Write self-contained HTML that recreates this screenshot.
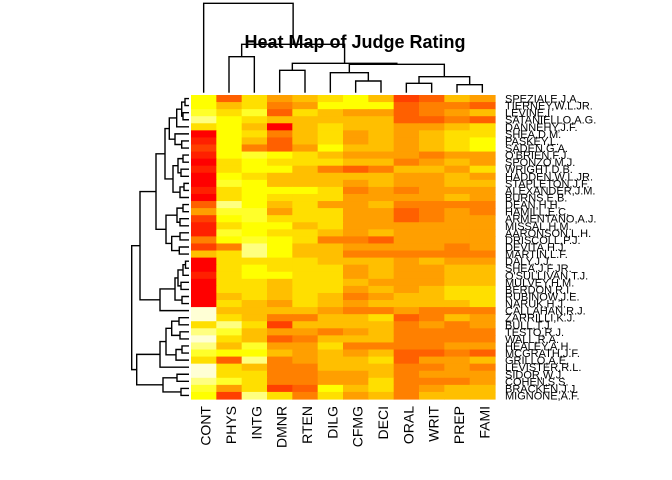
<!DOCTYPE html>
<html><head><meta charset="utf-8"><style>
html,body{margin:0;padding:0;background:#fff}
svg{display:block}
text{font-family:"Liberation Sans",Arial,sans-serif}
</style></head><body>
<svg id="chart" width="672" height="480" viewBox="0 0 672 480" xmlns="http://www.w3.org/2000/svg">
<g id="cells"></g>
<g id="rowdend" stroke="#000" stroke-width="1.4" fill="none"></g>
<g id="coldend" stroke="#000" stroke-width="1.4" fill="none"></g>
<text x="355" y="48" font-size="18" font-weight="bold" text-anchor="middle">Heat Map of Judge Rating</text>
<g id="rowlabels"></g>
<g id="collabels"></g>
</svg>
<script>
const colLabels=["CONT","PHYS","INTG","DMNR","RTEN","DILG","CFMG","DECI","ORAL","WRIT","PREP","FAMI"];
const rowLabels=["SPEZIALE,J.A.","TIERNEY,W.L.JR.","LEVINE,I.","SATANIELLO,A.G.","DANNEHY,J.F.","SHEA,D.M.","PASKEY,L.","SADEN.G.A.","O'BRIEN,F.J.","SPONZO,M.J.","WRIGHT,D.B.","HADDEN,W.L.JR.","STAPLETON,J.F.","ALEXANDER,J.M.","BURNS,E.B.","DEAN,H.H.","HAMILL,E.C.","ARMENTANO,A.J.","MISSAL,H.M.","AARONSON,L.H.","DRISCOLL,P.J.","DEVITA,H.J.","MARTIN,L.F.","DALY,J.J.","SHEA,J.F.JR.","O'SULLIVAN,T.J.","MULVEY,H.M.","BERDON,R.I.","RUBINOW,J.E.","NARUK,H.J.","CALLAHAN,R.J.","ZARRILLI,K.J.","BULL,T.J.","TESTO,R.J.","WALL,R.A.","HEALEY.A.H.","MCGRATH,J.F.","GRILLO,A.E.","LEVISTER,R.L.","SIDOR,W.J.","COHEN,S.S.","BRACKEN,J.J.","MIGNONE,A.F."];
const palette=["#FF0000","#FF2000","#FF4000","#FF6000","#FF8000","#FF9F00","#FFBF00","#FFDF00","#FFFF00","#FFFF2A","#FFFF80","#FFFFD5"];
const levels=[
[8,3,7,5,6,7,8,6,2,3,6,5],
[8,6,7,4,5,8,8,8,3,4,4,3],
[9,7,9,3,7,6,5,5,3,4,5,6],
[10,8,7,6,6,6,6,6,3,3,4,3],
[7,8,6,0,6,7,6,6,5,5,6,7],
[0,8,7,4,6,7,5,6,5,6,7,7],
[1,8,6,3,6,7,5,6,5,6,7,8],
[2,8,4,3,5,8,6,6,5,6,7,8],
[1,8,9,8,7,6,5,5,5,4,5,5],
[0,7,8,7,7,7,6,6,4,5,6,5],
[1,7,8,8,6,4,3,4,6,6,5,7],
[0,8,7,6,6,6,6,6,5,5,6,5],
[0,9,8,6,6,6,5,6,5,5,6,6],
[1,7,8,8,8,7,4,5,4,5,5,5],
[0,7,8,7,7,7,5,5,5,5,6,5],
[3,10,8,6,7,5,5,6,4,4,4,4],
[5,9,9,5,7,7,5,5,3,4,5,4],
[2,8,9,7,7,7,5,5,3,4,5,5],
[1,7,8,8,6,7,5,5,5,5,5,5],
[1,9,8,7,7,6,5,6,5,5,5,5],
[4,8,9,8,7,4,4,3,5,5,5,5],
[2,4,10,8,6,6,5,5,5,5,4,5],
[6,7,10,8,6,6,4,4,4,4,4,4],
[0,7,7,7,7,6,6,6,5,6,5,5],
[0,7,8,7,7,7,5,6,5,5,6,6],
[1,7,8,8,7,7,5,6,5,5,6,6],
[0,7,7,6,7,7,6,5,5,5,6,6],
[0,7,7,6,7,7,5,6,5,6,7,7],
[0,6,7,6,7,6,4,5,6,6,7,7],
[0,7,6,5,7,6,5,6,6,6,6,7],
[11,6,6,6,6,5,4,4,5,4,4,4],
[11,7,6,4,4,6,6,7,3,4,6,5],
[7,10,7,2,6,6,6,6,4,5,4,5],
[10,9,6,5,5,4,5,6,4,4,4,4],
[11,7,6,3,4,6,6,6,4,4,4,4],
[10,6,9,5,5,7,4,4,4,4,5,5],
[9,8,8,6,5,6,5,6,3,3,4,3],
[7,3,10,4,5,6,6,7,3,5,5,6],
[11,7,6,4,4,6,6,6,4,4,5,4],
[11,7,7,4,4,5,5,6,4,5,5,5],
[10,9,7,4,4,5,5,7,4,4,4,5],
[9,5,7,2,3,8,6,7,4,5,6,6],
[8,2,10,7,4,7,5,6,4,6,6,6]
];
// dendrogram merges: [left, right, height]
const rA=[[[0,1,185],[2,3,183],181.7],4,176.7];
const rB=[5,[6,7,181.7],175];
const rC=[[[8,9,183],[10,11,181],178],[[12,13,184],14,180],173];
const rABC=[[rA,rB,169.3],rC,165];
const rD=[[[15,16,183],[17,18,180],177],[[19,20,180],[21,22,179.3],171.7],166];
const rM=[[[[[23,24,185.5],25,183],[26,27,181],178],[28,29,182],175],30,160];
const rTop=[[rABC,rD,156],rM,140];
const rG12=[[[[31,32,179],[33,34,180],171.7],[[35,36,182],37,176],166],38,160];
const rG3=[[39,40,177],[41,42,181],163];
const rowTree=[rTop,[rG12,rG3,136.7],131.7];
const colTree=[0,[[1,2,56.7],[[3,4,70.3],[[5,[6,7,81],72.7],[[8,9,83.3],[10,11,84.7],76.7],64.3],63.3],44.3],3.3];

const X0=191,X1=495,Y0=95,Y1=399;
const cw=(X1-X0)/colLabels.length, rh=(Y1-Y0)/rowLabels.length;
const xCol=i=>X0+i*cw, yRow=r=>Y0+r*rh;
const NS="http://www.w3.org/2000/svg";
const cells=document.getElementById('cells');
levels.forEach((row,r)=>row.forEach((v,c)=>{
  const el=document.createElementNS(NS,'rect');
  
  
  el.setAttribute('x',xCol(c));el.setAttribute('y',yRow(r));
  el.setAttribute('width',cw+0.6);el.setAttribute('height',rh+0.6);
  el.setAttribute('fill',palette[v]);
  cells.appendChild(el);
}));
const rl=document.getElementById('rowlabels');
rowLabels.forEach((t,r)=>{
  const el=document.createElementNS(NS,'text');
  
  
  el.setAttribute('x',505);el.setAttribute('y',yRow(r)+rh/2+4);
  el.setAttribute('font-size','11');
  el.textContent=t;rl.appendChild(el);
});
const cl=document.getElementById('collabels');
colLabels.forEach((t,c)=>{
  const el=document.createElementNS(NS,'text');
  
  
  const cx=xCol(c)+cw/2+7;
  el.setAttribute('x',cx);el.setAttribute('y',406);
  el.setAttribute('font-size','14');el.setAttribute('text-anchor','end');
  el.setAttribute('transform','rotate(-90 '+cx+' 406)');
  el.textContent=t;cl.appendChild(el);
});
function addPath(g,d,name){
  const p=document.createElementNS(NS,'path');
  
  
  p.setAttribute('d',d);g.appendChild(p);
}
const rd=document.getElementById('rowdend');
function drawRow(n){
  if(typeof n==='number') return {p:yRow(n)+rh/2,h:189};
  const a=drawRow(n[0]),b=drawRow(n[1]),h=n[2];
  addPath(rd,'M'+a.h+' '+a.p+'H'+h+'V'+b.p+'H'+b.h,'row-dendrogram-branch');
  return {p:(a.p+b.p)/2,h:h};
}
drawRow(rowTree);
const cd=document.getElementById('coldend');
function drawCol(n){
  if(typeof n==='number') return {p:xCol(n)+cw/2,h:92.7};
  const a=drawCol(n[0]),b=drawCol(n[1]),h=n[2];
  addPath(cd,'M'+a.p+' '+a.h+'V'+h+'H'+b.p+'V'+b.h,'column-dendrogram-branch');
  return {p:(a.p+b.p)/2,h:h};
}
drawCol(colTree);
</script>
</body></html>
